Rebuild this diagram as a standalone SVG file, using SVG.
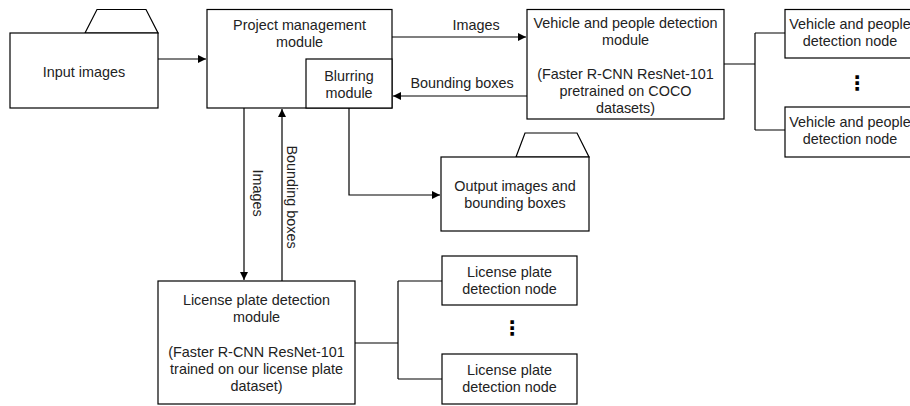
<svg xmlns="http://www.w3.org/2000/svg" width="910" height="406" viewBox="0 0 910 406">
<style>
.b{fill:#fff;stroke:#000;stroke-width:1.2}
.c{fill:none;stroke:#000;stroke-width:1.2}
text{font-family:"Liberation Sans",Arial,sans-serif;font-size:14.4px;fill:#222;text-anchor:middle}
.dots{font-family:"DejaVu Sans",sans-serif;font-weight:bold;font-size:20px;fill:#000}
</style>
<defs>
<marker id="ar" markerWidth="10" markerHeight="10" refX="8" refY="5" orient="auto" markerUnits="userSpaceOnUse">
<path d="M0,1 L8,5 L0,9 Z" fill="#000"/>
</marker>
</defs>
<rect width="910" height="406" fill="#fff"/>
<g id="connectors">
<path class="c" d="M158,59 H206" marker-end="url(#ar)"/>
<path class="c" d="M392,37 H526" marker-end="url(#ar)"/>
<path class="c" d="M527,96 H393" marker-end="url(#ar)"/>
<path class="c" d="M724,64 H755 M755,33 V130 M755,33 H785 M755,130 H785"/>
<path class="c" d="M349,108 V195 H440" marker-end="url(#ar)"/>
<path class="c" d="M244,108 V280" marker-end="url(#ar)"/>
<path class="c" d="M282,281 V109" marker-end="url(#ar)"/>
<path class="c" d="M355,343 H398 M398,281 V379 M398,281 H442 M398,379 H442"/>
<text x="476" y="30">Images</text>
<text x="462" y="88">Bounding boxes</text>
<text transform="translate(253,193) rotate(90)">Images</text>
<text transform="translate(287,197) rotate(90)">Bounding boxes</text>
</g>
<g id="input-images">
<path class="b" d="M85,33 L97,9.5 H146 L158,33 Z"/>
<rect class="b" x="10" y="33" width="148" height="75"/>
<text x="84" y="77">Input images</text>
</g>
<g id="project-management">
<rect class="b" x="207" y="9.5" width="185" height="98.5"/>
<text x="299.5" y="30">Project management</text>
<text x="299.5" y="47">module</text>
</g>
<g id="blurring">
<rect class="b" x="306" y="59" width="86" height="49"/>
<text x="349" y="81">Blurring</text>
<text x="349" y="98">module</text>
</g>
<g id="vehicle-module">
<rect class="b" x="527" y="9.5" width="197" height="109.5"/>
<text x="625.5" y="28">Vehicle and people detection</text>
<text x="625.5" y="45">module</text>
<text x="625.5" y="79">(Faster R-CNN ResNet-101</text>
<text x="625.5" y="96">pretrained on COCO</text>
<text x="625.5" y="113">datasets)</text>
</g>
<g id="vehicle-node-1">
<rect class="b" x="785" y="9.5" width="130" height="48.5"/>
<text x="850" y="29">Vehicle and people</text>
<text x="850" y="46">detection node</text>
</g>
<text class="dots" x="857" y="90">⋮</text>
<g id="vehicle-node-2">
<rect class="b" x="785" y="107" width="130" height="50"/>
<text x="850" y="127">Vehicle and people</text>
<text x="850" y="144">detection node</text>
</g>
<g id="output-images">
<path class="b" d="M516,157 L525,133 H577 L589,157 Z"/>
<rect class="b" x="441" y="157" width="148" height="74"/>
<text x="515" y="191">Output images and</text>
<text x="515" y="208">bounding boxes</text>
</g>
<g id="license-module">
<rect class="b" x="158" y="281" width="197" height="123"/>
<text x="256.5" y="305">License plate detection</text>
<text x="256.5" y="322">module</text>
<text x="256.5" y="356.5">(Faster R-CNN ResNet-101</text>
<text x="256.5" y="373.5">trained on our license plate</text>
<text x="256.5" y="390.5">dataset)</text>
</g>
<g id="license-node-1">
<rect class="b" x="442" y="256" width="135" height="49"/>
<text x="509.5" y="277">License plate</text>
<text x="509.5" y="294">detection node</text>
</g>
<text class="dots" x="512" y="335">⋮</text>
<g id="license-node-2">
<rect class="b" x="442" y="354" width="135" height="50"/>
<text x="509.5" y="375">License plate</text>
<text x="509.5" y="392">detection node</text>
</g>
</svg>
